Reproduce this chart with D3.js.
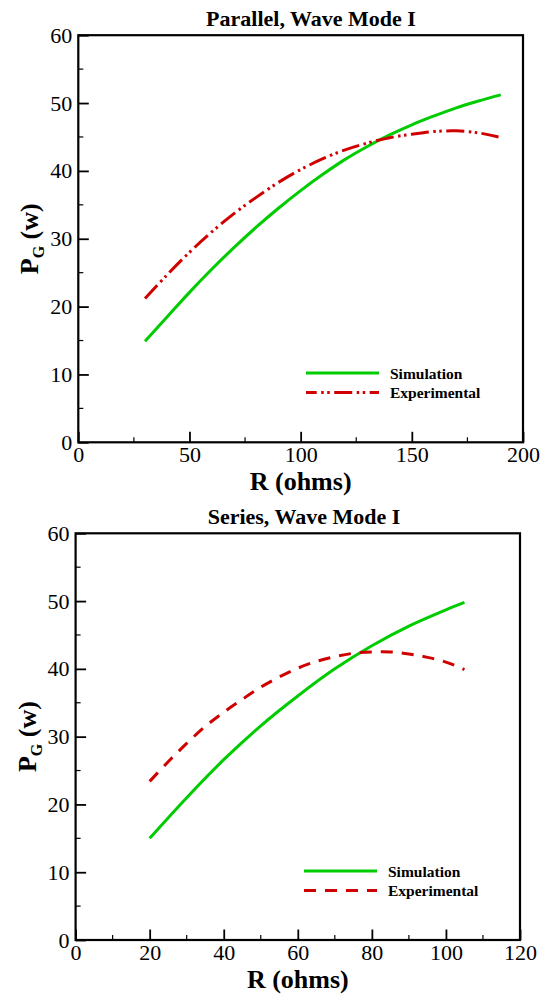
<!DOCTYPE html>
<html>
<head>
<meta charset="utf-8">
<script src="https://cdn.jsdelivr.net/npm/d3@7"></script>
<style>
  body { margin: 0; background: #fff; }
  svg text { font-family: "Liberation Serif", "Times New Roman", Times, serif; }
</style>
</head>
<body>
<div id="chart"></div>
<script>
// parallel, wave mode I
var parR_sim = [30, 40, 50, 60, 70, 80, 90, 100, 110, 120, 130, 140, 150, 160, 170, 180, 190];
var parP_sim = [14.9, 18.5, 22.1, 25.5, 28.7, 31.7, 34.5, 37.1, 39.5, 41.7, 43.6, 45.3, 46.8, 48.1, 49.3, 50.3, 51.2];
var parR_exp = [30, 40, 50, 60, 70, 80, 90, 100, 110, 120, 130, 140, 150, 160, 170, 180, 189];
var parP_exp = [21.2, 24.7, 28.0, 31.0, 33.7, 36.1, 38.3, 40.2, 41.8, 43.1, 44.1, 44.9, 45.4, 45.8, 45.9, 45.6, 45.0];

// series, wave mode I
var serR_sim = [20, 30, 40, 50, 60, 70, 80, 90, 100, 105];
var serP_sim = [15.0, 21.0, 26.6, 31.6, 36.0, 40.0, 43.4, 46.3, 48.7, 49.8];
var serR_exp = [20, 25, 30, 35, 40, 45, 50, 55, 60, 65, 70, 75, 80, 85, 90, 95, 100, 105];
var serP_exp = [23.4, 26.3, 29.0, 31.5, 33.6, 35.5, 37.3, 38.8, 40.1, 41.1, 41.8, 42.3, 42.5, 42.5, 42.2, 41.7, 41.0, 39.9];

var yTicks = [0, 10, 20, 30, 40, 50, 60];
var legendNames = ["Simulation", "Experimental"];

var green = "#00cc00", red = "#d00000";
var serif = "'Liberation Serif', 'Times New Roman', Times, serif";

var svg = d3.select("#chart").append("svg").attr("width", 549).attr("height", 994)
  .attr("font-family", serif);

function zip(xs, ys) { return xs.map(function(x, i) { return [x, ys[i]]; }); }

function panel(opt) {
  var x = d3.scaleLinear().domain([0, opt.xmax]).range([opt.left, opt.right]);
  var y = d3.scaleLinear().domain([0, 60]).range([opt.bottom, opt.top]);
  var g = svg.append("g");

  g.append("text").attr("x", opt.titleX).attr("y", opt.top - 9)
    .attr("text-anchor", "middle").attr("font-size", 22).attr("font-weight", "bold")
    .text(opt.title);

  // minor ticks, inside
  d3.range(5, 60, 10).forEach(function(d) {
    g.append("line").attr("x1", opt.left).attr("x2", opt.left + 5)
      .attr("y1", y(d)).attr("y2", y(d)).attr("stroke", "#000").attr("stroke-width", 1.2);
  });
  d3.range(opt.xstep / 2, opt.xmax, opt.xstep).forEach(function(d) {
    g.append("line").attr("x1", x(d)).attr("x2", x(d))
      .attr("y1", opt.bottom).attr("y2", opt.bottom - 5).attr("stroke", "#000").attr("stroke-width", 1.2);
  });

  var yAxis = d3.axisLeft(y).tickValues(yTicks).tickSizeInner(-10.5).tickSizeOuter(0).tickPadding(6);
  var xAxis = d3.axisBottom(x).tickValues(d3.range(0, opt.xmax + 1, opt.xstep))
    .tickSizeInner(-10.5).tickSizeOuter(0).tickPadding(4);

  var ya = g.append("g").attr("transform", "translate(" + opt.left + ",0)").call(yAxis);
  var xa = g.append("g").attr("transform", "translate(0," + opt.bottom + ")").call(xAxis);
  [ya, xa].forEach(function(a) {
    a.attr("font-family", serif).attr("font-size", 22);
    a.select(".domain").remove();
    a.selectAll("line").attr("stroke", "#000").attr("stroke-width", 1.8);
    a.selectAll("text").attr("fill", "#000");
  });

  g.append("rect").attr("x", opt.left).attr("y", opt.top)
    .attr("width", opt.right - opt.left).attr("height", opt.bottom - opt.top)
    .attr("fill", "none").attr("stroke", "#000").attr("stroke-width", 2.2);

  var line = d3.line().x(function(d) { return x(d[0]); }).y(function(d) { return y(d[1]); })
    .curve(d3.curveCatmullRom.alpha(0.5));

  g.append("path").datum(zip(opt.simR, opt.simP)).attr("d", line)
    .attr("fill", "none").attr("stroke", green).attr("stroke-width", 3);
  g.append("path").datum(zip(opt.expR, opt.expP)).attr("d", line)
    .attr("fill", "none").attr("stroke", red).attr("stroke-width", 3)
    .attr("stroke-dasharray", opt.dash);

  // legend
  var lx = opt.legendX, ly = opt.legendY;
  [green, red].forEach(function(c, i) {
    g.append("line").attr("x1", lx).attr("x2", lx + 73)
      .attr("y1", ly + i * 19.5).attr("y2", ly + i * 19.5)
      .attr("stroke", c).attr("stroke-width", 3)
      .attr("stroke-dasharray", i ? opt.dash : null)
      .attr("stroke-dashoffset", i ? opt.dashOffset : null);
    g.append("text").attr("x", lx + 84).attr("y", ly + i * 19.5 + 5.5)
      .attr("font-size", 15.5).attr("font-weight", "bold").text(legendNames[i]);
  });

  g.append("text").attr("x", (opt.left + opt.right) / 2).attr("y", opt.bottom + 48)
    .attr("text-anchor", "middle").attr("font-size", 26).attr("font-weight", "bold")
    .text("R (ohms)");

  var yt = g.append("text")
    .attr("transform", "translate(" + opt.ytitleX + "," + ((opt.top + opt.bottom) / 2) + ") rotate(-90)")
    .attr("text-anchor", "middle").attr("font-size", 26).attr("font-weight", "bold");
  yt.append("tspan").text("P");
  yt.append("tspan").attr("font-size", 16).attr("dy", 6).text("G");
  yt.append("tspan").attr("dy", -6).text(" (w)");
}

panel({
  title: "Parallel, Wave Mode I", titleX: 311,
  left: 78.3, right: 523, top: 35.2, bottom: 442.3, xmax: 200, xstep: 50,
  simR: parR_sim, simP: parP_sim, expR: parR_exp, expP: parP_exp,
  dash: "18,4.5,2.5,3.5,2.5,4.5", dashOffset: 7.3,
  legendX: 306, legendY: 373, ytitleX: 38
});

panel({
  title: "Series, Wave Mode I", titleX: 304,
  left: 75.6, right: 520, top: 533.3, bottom: 940, xmax: 120, xstep: 20,
  simR: serR_sim, simP: serP_sim, expR: serR_exp, expP: serP_exp,
  dash: "12,9", dashOffset: 0,
  legendX: 304, legendY: 871, ytitleX: 36
});
</script>
</body>
</html>
